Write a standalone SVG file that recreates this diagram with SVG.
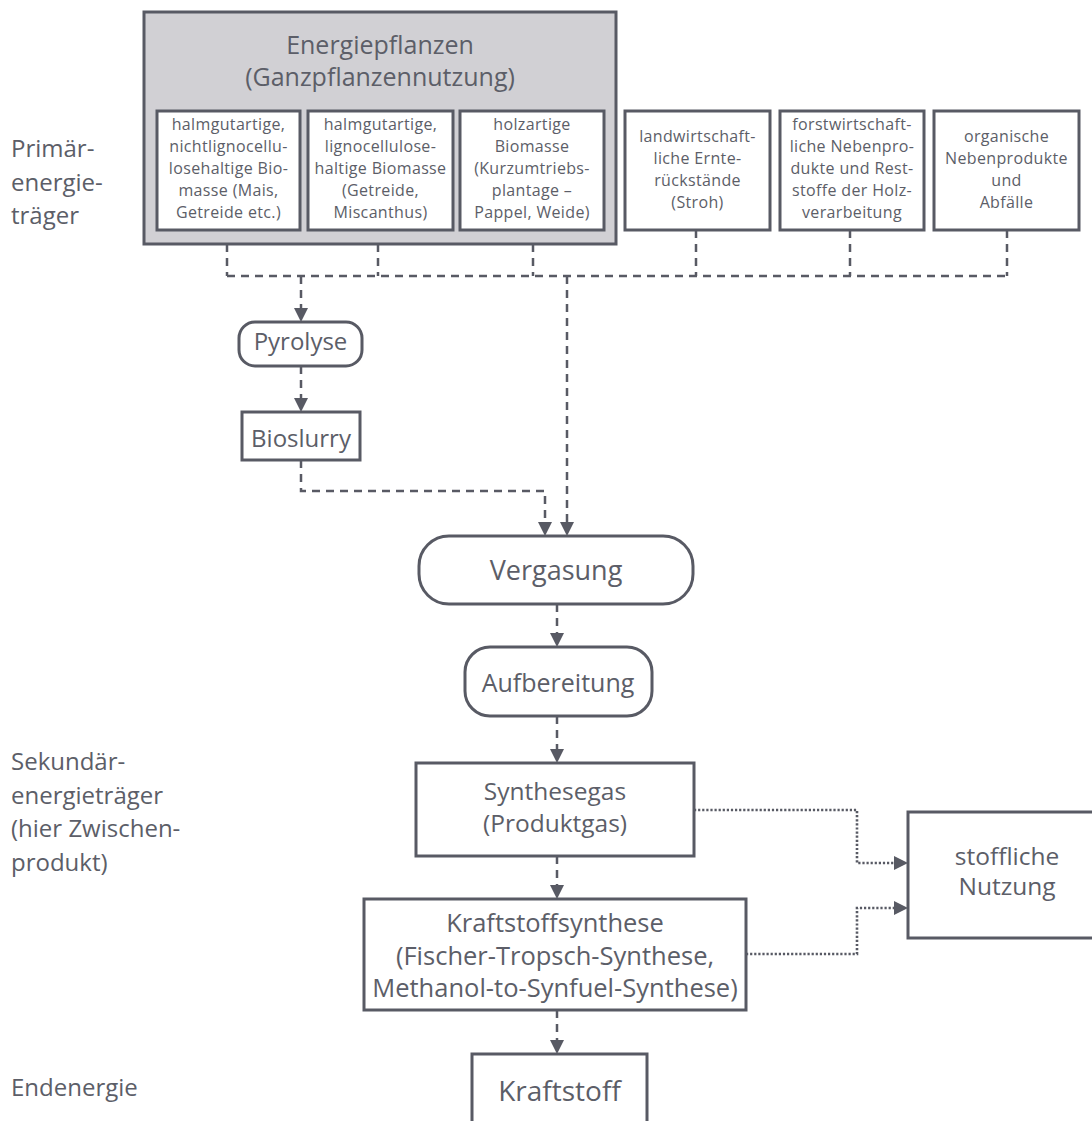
<svg xmlns="http://www.w3.org/2000/svg" width="1092" height="1121" viewBox="0 0 1092 1121">
  <style>
    text { font-family: "Open Sans", "Noto Sans", "DejaVu Sans", sans-serif; fill: #5c5e68; }
    .mid { text-anchor: middle; }
    .box { fill: #ffffff; stroke: #585a64; stroke-width: 3; }
    .group { fill: #d1d0d4; stroke: #585a64; stroke-width: 3; }
    .dash { fill: none; stroke: #585a64; stroke-width: 2.5; stroke-dasharray: 8 6; }
    .dot { fill: none; stroke: #585a64; stroke-width: 2.6; stroke-dasharray: 2.2 1.9; }
    .small { font-size: 16px; letter-spacing: 0.35px; }
    .lbl { font-size: 24px; }
  </style>
  <defs>
    <marker id="arrow" markerUnits="userSpaceOnUse" markerWidth="14" markerHeight="14" viewBox="0 0 14 14" refX="4" refY="7" orient="auto">
      <path d="M0,0 L14,7 L0,14 Z" fill="#585a64"/>
    </marker>
  </defs>

  <rect width="1092" height="1121" fill="#ffffff"/>

  <!-- row labels -->
  <g id="labels" class="lbl">
    <text x="11" y="157">Primär-</text>
    <text x="11" y="190.5">energie-</text>
    <text x="11" y="224">träger</text>
    <text x="11" y="770">Sekundär-</text>
    <text x="11" y="803.5">energieträger</text>
    <text x="11" y="837">(hier Zwischen-</text>
    <text x="11" y="870.5">produkt)</text>
    <text x="11" y="1096">Endenergie</text>
  </g>

  <!-- connectors -->
  <g id="connectors">
    <path class="dash" d="M227,230 V276 M378,230 V276 M533,230 V276 M696,230 V276 M850,230 V276 M1007,230 V276 M227,276 H1007"/>
    <path class="dash" d="M301,276 V312" marker-end="url(#arrow)"/>
    <path class="dash" d="M301,366 V402" marker-end="url(#arrow)"/>
    <path class="dash" d="M301,460 V491 H545 V526" marker-end="url(#arrow)"/>
    <path class="dash" d="M567,276 V526" marker-end="url(#arrow)"/>
    <path class="dash" d="M557,604 V637" marker-end="url(#arrow)"/>
    <path class="dash" d="M557,716 V753" marker-end="url(#arrow)"/>
    <path class="dash" d="M557,856 V889" marker-end="url(#arrow)"/>
    <path class="dash" d="M557,1010 V1044" marker-end="url(#arrow)"/>
    <path class="dot" d="M694,810 H857 V863 H898" marker-end="url(#arrow)"/>
    <path class="dot" d="M746,954 H857 V908 H898" marker-end="url(#arrow)"/>
  </g>

  <!-- energy crops group -->
  <g id="energiepflanzen">
    <rect class="group" x="144" y="12" width="472" height="232"/>
    <text class="mid" x="380" y="54" font-size="25">Energiepflanzen</text>
    <text class="mid" x="380" y="86" font-size="25">(Ganzpflanzennutzung)</text>
  </g>

  <g id="halmgut-nichtligno" class="small">
    <rect class="box" x="157" y="111" width="143" height="119"/>
    <text class="mid" x="228.5" y="130">halmgutartige,</text>
    <text class="mid" x="228.5" y="152">nichtlignocellu-</text>
    <text class="mid" x="228.5" y="174">losehaltige Bio-</text>
    <text class="mid" x="228.5" y="196">masse (Mais,</text>
    <text class="mid" x="228.5" y="218">Getreide etc.)</text>
  </g>

  <g id="halmgut-ligno" class="small">
    <rect class="box" x="308" y="111" width="145" height="119"/>
    <text class="mid" x="380.5" y="130">halmgutartige,</text>
    <text class="mid" x="380.5" y="152">lignocellulose-</text>
    <text class="mid" x="380.5" y="174">haltige Biomasse</text>
    <text class="mid" x="380.5" y="196">(Getreide,</text>
    <text class="mid" x="380.5" y="218">Miscanthus)</text>
  </g>

  <g id="holzartig" class="small">
    <rect class="box" x="460" y="111" width="144" height="119"/>
    <text class="mid" x="532" y="130">holzartige</text>
    <text class="mid" x="532" y="152">Biomasse</text>
    <text class="mid" x="532" y="174">(Kurzumtriebs-</text>
    <text class="mid" x="532" y="196">plantage –</text>
    <text class="mid" x="532" y="218">Pappel, Weide)</text>
  </g>

  <g id="ernterueckstaende" class="small">
    <rect class="box" x="625" y="111" width="145" height="119"/>
    <text class="mid" x="697.5" y="142">landwirtschaft-</text>
    <text class="mid" x="697.5" y="164">liche Ernte-</text>
    <text class="mid" x="697.5" y="186">rückstände</text>
    <text class="mid" x="697.5" y="208">(Stroh)</text>
  </g>

  <g id="forst" class="small">
    <rect class="box" x="780" y="111" width="144" height="119"/>
    <text class="mid" x="852" y="130">forstwirtschaft-</text>
    <text class="mid" x="852" y="152">liche Nebenpro-</text>
    <text class="mid" x="852" y="174">dukte und Rest-</text>
    <text class="mid" x="852" y="196">stoffe der Holz-</text>
    <text class="mid" x="852" y="218">verarbeitung</text>
  </g>

  <g id="organisch" class="small">
    <rect class="box" x="934" y="111" width="145" height="119"/>
    <text class="mid" x="1006.5" y="142">organische</text>
    <text class="mid" x="1006.5" y="164">Nebenprodukte</text>
    <text class="mid" x="1006.5" y="186">und</text>
    <text class="mid" x="1006.5" y="208">Abfälle</text>
  </g>

  <!-- process chain -->
  <g id="pyrolyse">
    <rect class="box" x="239" y="322" width="123" height="44" rx="16"/>
    <text class="mid" x="300.5" y="350" font-size="24">Pyrolyse</text>
  </g>

  <g id="bioslurry">
    <rect class="box" x="242" y="412" width="118" height="48"/>
    <text class="mid" x="301" y="447" font-size="24">Bioslurry</text>
  </g>

  <g id="vergasung">
    <rect class="box" x="419" y="536" width="274" height="68" rx="30"/>
    <text class="mid" x="556" y="580" font-size="27">Vergasung</text>
  </g>

  <g id="aufbereitung">
    <rect class="box" x="465" y="647" width="187" height="69" rx="25"/>
    <text class="mid" x="558" y="692" font-size="25">Aufbereitung</text>
  </g>

  <g id="synthesegas">
    <rect class="box" x="416" y="763" width="278" height="93"/>
    <text class="mid" x="555" y="800" font-size="24.5">Synthesegas</text>
    <text class="mid" x="555" y="832" font-size="24.5">(Produktgas)</text>
  </g>

  <g id="kraftstoffsynthese">
    <rect class="box" x="364" y="899" width="382" height="111"/>
    <text class="mid" x="555" y="932" font-size="25.5">Kraftstoffsynthese</text>
    <text class="mid" x="555" y="964.5" font-size="25.5">(Fischer-Tropsch-Synthese,</text>
    <text class="mid" x="555" y="997" font-size="25.5">Methanol-to-Synfuel-Synthese)</text>
  </g>

  <g id="kraftstoff">
    <rect class="box" x="472" y="1054" width="175" height="90"/>
    <text class="mid" x="559.5" y="1101" font-size="28">Kraftstoff</text>
  </g>

  <g id="stoffliche-nutzung">
    <rect class="box" x="908" y="812" width="200" height="126"/>
    <text class="mid" x="1007" y="865" font-size="24.5">stoffliche</text>
    <text class="mid" x="1007" y="895" font-size="24.5">Nutzung</text>
  </g>
</svg>
